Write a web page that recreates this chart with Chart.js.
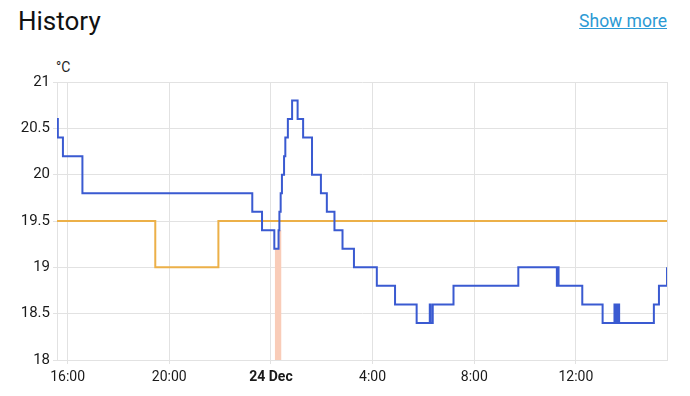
<!DOCTYPE html>
<html lang="en">
<head>
  <meta charset="UTF-8">
  <title>History</title>
  <script src="https://cdn.jsdelivr.net/npm/chart.js"></script>
  <style>
    body {
      margin: 0;
      width: 690px;
      height: 396px;
      background: #fff;
      font-family: Roboto, Arial, sans-serif;
      position: relative;
      overflow: hidden;
    }
    .title {
      position: absolute;
      left: 18px;
      top: 6px;
      font-size: 26px;
      color: #111;
    }
    .more {
      position: absolute;
      right: 23px;
      top: 11px;
      font-size: 17.5px;
      color: #2c9ad4;
      text-decoration: underline;
    }
    .unit {
      position: absolute;
      left: 56px;
      top: 59px;
      font-size: 14px;
      color: #1f1f1f;
    }
    .chart-box {
      position: absolute;
      left: 0;
      top: 56px;
      width: 690px;
      height: 340px;
    }
  </style>
</head>
<body>
  <div class="title">History</div>
  <a class="more">Show more</a>
  <div class="unit">°C</div>
  <div class="chart-box"><canvas id="history"></canvas></div>

  <script>
    // time in minutes from midnight, 24 Dec (negative = 23 Dec)
    const startMin = -505;
    const endMin = 935;

    const tickMins = [-480, -240, 0, 240, 480, 720];
    const tickLabels = ['16:00', '20:00', '24 Dec', '4:00', '8:00', '12:00'];

    // current temperature
    const currentTimes = [-505, -503, -491, -445, -44, -21, 8, 18, 20, 23, 26, 29, 31, 34, 40, 50, 63, 76, 97, 118, 132, 150, 169, 196, 250, 293, 344, 375, 377, 382, 431, 584, 675, 677, 679, 735, 783, 811, 814, 818, 822, 904, 916, 935];
    const currentTemps = [20.6, 20.4, 20.2, 19.8, 19.6, 19.4, 19.2, 19.4, 19.6, 19.8, 20.0, 20.0, 20.2, 20.4, 20.6, 20.8, 20.6, 20.4, 20.0, 19.8, 19.6, 19.4, 19.2, 19.0, 18.8, 18.6, 18.4, 18.6, 18.4, 18.6, 18.8, 19.0, 18.8, 19.0, 18.8, 18.6, 18.4, 18.6, 18.4, 18.6, 18.4, 18.6, 18.8, 19.0];

    // target temperature
    const targetTimes = [-505, -273, -124, 935];
    const targetTemps = [19.5, 19.0, 19.5, 19.5];

    // heating on
    const heatTimes = [9, 18, 25];
    const heatTemps = [19.2, 19.4, 19.4];

    const toPoints = (xs, ys) => xs.map((x, i) => ({ x: x, y: ys[i] }));

    const gridColor = '#e2e2e2';
    const textColor = '#1a1a1a';

    new Chart(document.getElementById('history'), {
      type: 'line',
      data: {
        datasets: [
          {
            label: 'Current temperature',
            data: toPoints(currentTimes, currentTemps),
            borderColor: '#3a5ad1',
            borderWidth: 2,
            stepped: true,
            pointRadius: 0,
            fill: false
          },
          {
            label: 'Target temperature',
            data: toPoints(targetTimes, targetTemps),
            borderColor: '#ecb048',
            borderWidth: 2,
            stepped: true,
            pointRadius: 0,
            fill: false
          },
          {
            label: 'Heating',
            data: toPoints(heatTimes, heatTemps),
            borderColor: 'rgba(0,0,0,0)',
            borderWidth: 0,
            backgroundColor: '#f9ccb8',
            stepped: true,
            pointRadius: 0,
            fill: 'start'
          }
        ]
      },
      options: {
        responsive: true,
        maintainAspectRatio: false,
        animation: false,
        layout: { padding: { top: 26, right: 23, left: 0, bottom: 0 } },
        plugins: {
          legend: { display: false },
          tooltip: { enabled: false }
        },
        scales: {
          x: {
            type: 'linear',
            min: startMin,
            max: endMin,
            afterBuildTicks: scale => {
              scale.ticks = tickMins.map(v => ({ value: v }));
            },
            afterFit: scale => { scale.height = 36; },
            ticks: {
              autoSkip: false,
              maxRotation: 0,
              padding: 5,
              color: textColor,
              font: ctx => ({
                family: 'Roboto',
                size: 14,
                weight: ctx.tick && ctx.tick.value === 0 ? 'bold' : 'normal'
              }),
              callback: value => tickLabels[tickMins.indexOf(value)]
            },
            grid: { color: gridColor, tickLength: 4 },
            border: { color: gridColor }
          },
          y: {
            min: 18,
            max: 21,
            afterFit: scale => { scale.width = 57; },
            ticks: {
              stepSize: 0.5,
              padding: 3,
              color: textColor,
              font: { family: 'Roboto', size: 15 },
              callback: value => String(value)
            },
            grid: { color: gridColor, tickLength: 4 },
            border: { color: gridColor }
          },
          yRight: {
            position: 'right',
            min: 18,
            max: 21,
            afterFit: scale => { scale.width = 0; },
            ticks: { display: false },
            grid: { display: false },
            border: { color: gridColor }
          }
        }
      }
    });
  </script>
</body>
</html>
